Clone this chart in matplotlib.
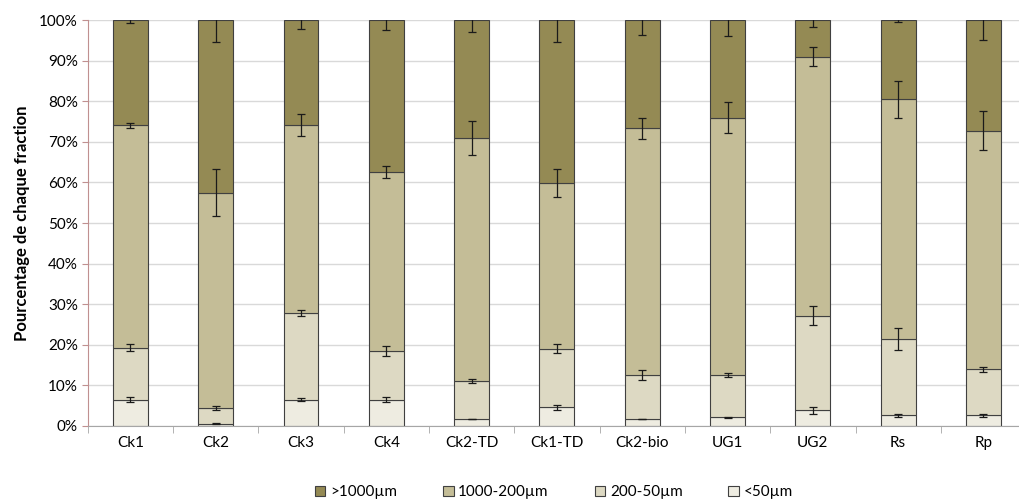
import numpy as np
import matplotlib
matplotlib.use("Agg")
import matplotlib.pyplot as plt
from matplotlib.ticker import FixedLocator, PercentFormatter

# données : pourcentage de chaque fraction
echantillons = ["Ck1", "Ck2", "Ck3", "Ck4", "Ck2-TD", "Ck1-TD", "Ck2-bio", "UG1", "UG2", "Rs", "Rp"]
fractions = ["<50µm", "200-50µm", "1000-200µm", ">1000µm"]

f_50 = [6.5, 0.5, 6.5, 6.5, 1.7, 4.6, 1.6, 2.1, 3.8, 2.6, 2.6]
f_200_50 = [12.8, 3.9, 21.3, 12.0, 9.4, 14.4, 10.9, 10.4, 23.4, 18.9, 11.4]
f_1000_200 = [54.8, 53.1, 46.3, 44.1, 59.9, 40.8, 60.8, 63.5, 63.8, 59.0, 58.7]
f_1000 = [25.9, 42.5, 25.9, 37.4, 29.0, 40.2, 26.7, 24.0, 9.0, 19.5, 27.3]

err_50 = [0.5, 0.1, 0.4, 0.5, 0.1, 0.6, 0.0, 0.2, 0.9, 0.3, 0.4]
err_200_50 = [0.8, 0.4, 0.7, 1.2, 0.5, 1.1, 1.3, 0.5, 2.4, 2.7, 0.6]
err_1000_200 = [0.6, 5.8, 2.7, 1.5, 4.2, 3.4, 2.6, 3.9, 2.3, 4.5, 4.8]
err_1000 = [0.7, 5.5, 2.3, 2.5, 3.0, 5.4, 3.6, 3.9, 1.8, 0.4, 4.8]

couleurs = ["#EEECE1", "#DDD9C3", "#C4BD97", "#948A54"]

plt.rcParams['font.family'] = ['Lato', 'DejaVu Sans']

fig = plt.figure(figsize=(10.2, 5.04), dpi=100)
ax = fig.add_axes([0.086, 0.155, 0.92, 0.805])

x = np.arange(len(echantillons))
series = [f_50, f_200_50, f_1000_200, f_1000]
erreurs = [err_50, err_200_50, err_1000_200, err_1000]

bas = np.zeros(len(echantillons))
barres = []
for vals, errs, col, nom in zip(series, erreurs, couleurs, fractions):
    vals = np.array(vals)
    b = ax.bar(x, vals, 0.41, bottom=bas, color=col, edgecolor="#404040",
               linewidth=0.8, label=nom, zorder=2)
    barres.append(b)
    ax.errorbar(x, bas + vals, yerr=errs, fmt="none", ecolor="#1a1a1a",
                elinewidth=0.9, capsize=3, capthick=0.9, zorder=3)
    bas = bas + vals

ax.set_xlim(-0.5, len(echantillons) - 0.5)
ax.set_ylim(0, 100)
ax.yaxis.set_major_locator(FixedLocator(np.arange(0, 101, 10)))
ax.yaxis.set_major_formatter(PercentFormatter(decimals=0))
ax.grid(axis="y", color="#d9d9d9", linewidth=1, zorder=0)
ax.set_axisbelow(True)

ax.set_xticks(x)
ax.set_xticklabels(echantillons)
ax.xaxis.set_minor_locator(FixedLocator(np.arange(-0.5, len(echantillons), 1)))
ax.tick_params(axis="x", which="major", length=0, pad=7, labelsize=11)
ax.tick_params(axis="x", which="minor", length=5, color="#a6a6a6", direction="out")
ax.tick_params(axis="y", length=4, color="#c09090", labelsize=11, pad=3)

for s in ["top", "right"]:
    ax.spines[s].set_visible(False)
ax.spines["left"].set_color("#c09090")
ax.spines["bottom"].set_color("#a6a6a6")

ax.set_ylabel("Pourcentage de chaque fraction", fontsize=12, fontweight="bold", labelpad=7)

handles = barres[::-1]
labels = fractions[::-1]
fig.legend(handles, labels, loc="lower center", ncol=4, bbox_to_anchor=(0.543, -0.018),
           frameon=False, fontsize=11, handlelength=0.7, handleheight=0.7,
           handletextpad=0.3, columnspacing=3.0)

fig.savefig("out.png", dpi=100)
